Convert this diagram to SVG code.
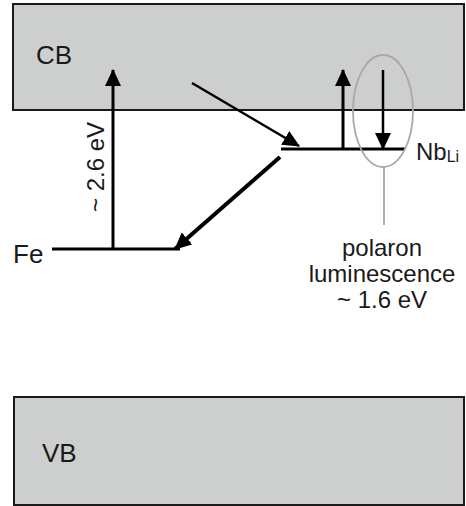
<svg xmlns="http://www.w3.org/2000/svg" width="466" height="506" viewBox="0 0 466 506">
<style>
.band{fill:#cdcfce;stroke:#1a1a1a;stroke-width:2}
.lbl{font-family:"Liberation Sans",Arial,sans-serif;fill:#1a1a1a}
.big{font-size:26px}
.med{font-size:24px}
.lvl{stroke:#000;stroke-width:3;fill:none}
.arr{stroke:#000;fill:none}
.gray{stroke:#a8a8a8;stroke-width:1.8;fill:none}
</style>
<defs>
<marker id="ah" markerUnits="userSpaceOnUse" markerWidth="18" markerHeight="16" viewBox="0 0 18 16" refX="16" refY="8" orient="auto">
<path d="M0,0 L17,8 L0,16 Z" fill="#000"/>
</marker>
</defs>
<g id="cb">
<rect class="band" x="13" y="4" width="451" height="106"/>
<text class="lbl big" x="36" y="64">CB</text>
</g>
<g id="vb">
<rect class="band" x="14" y="397" width="450" height="108"/>
<text class="lbl big" x="42" y="462">VB</text>
</g>
<g id="fe">
<line class="lvl" x1="52" y1="249" x2="180" y2="249"/>
<text class="lbl big" x="13" y="263">Fe</text>
</g>
<g id="nb">
<line class="lvl" x1="281" y1="149" x2="405" y2="149"/>
<text class="lbl med" x="416" y="160">Nb<tspan font-size="16" dy="2">Li</tspan></text>
</g>
<g id="polaron">
<ellipse class="gray" cx="383" cy="111" rx="30" ry="56"/>
<line class="gray" x1="384" y1="167" x2="384" y2="225"/>
<text class="lbl med" text-anchor="middle" x="382" y="256">polaron</text>
<text class="lbl med" text-anchor="middle" x="382" y="282">luminescence</text>
<text class="lbl med" text-anchor="middle" x="382" y="308">~ 1.6 eV</text>
</g>
<g id="connectors">
<line class="arr" stroke-width="3" x1="113" y1="249" x2="113" y2="70" marker-end="url(#ah)"/>
<text class="lbl med" transform="translate(104,167) rotate(-90)" text-anchor="middle">~ 2.6 eV</text>
<line class="arr" stroke-width="3" x1="343" y1="149" x2="343" y2="70" marker-end="url(#ah)"/>
<line class="arr" stroke-width="2.5" x1="383" y1="70" x2="383" y2="149" marker-end="url(#ah)"/>
<line class="arr" stroke-width="2.5" x1="192" y1="83" x2="299" y2="146" marker-end="url(#ah)"/>
<line class="arr" stroke-width="4" x1="280" y1="157" x2="175" y2="249" marker-end="url(#ah)"/>
</g>
</svg>
